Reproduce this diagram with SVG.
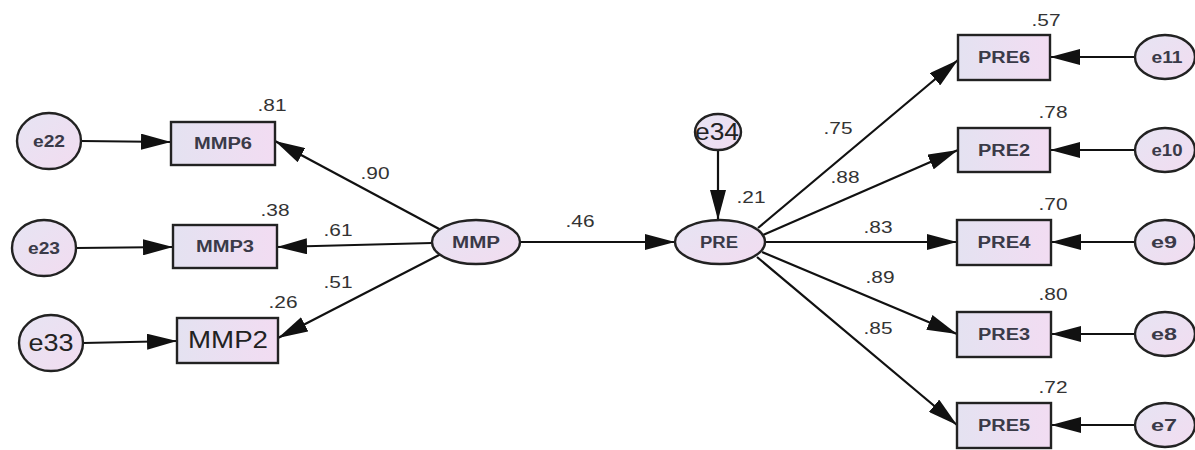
<svg xmlns="http://www.w3.org/2000/svg" width="1195" height="450" viewBox="0 0 1195 450">
  <defs>
    <linearGradient id="boxFill" x1="0" y1="0" x2="1" y2="0">
      <stop offset="0" stop-color="#e4e2f1"/>
      <stop offset="1" stop-color="#f2dcf2"/>
    </linearGradient>
    <linearGradient id="ovalFill" x1="0" y1="0" x2="1" y2="1">
      <stop offset="0" stop-color="#e6e4f3"/>
      <stop offset="1" stop-color="#f2dcf0"/>
    </linearGradient>
    <marker id="head" markerUnits="userSpaceOnUse" markerWidth="30" markerHeight="16" refX="30" refY="8" orient="auto">
      <path d="M0,0 L30,8 L0,16 z" fill="#111"/>
    </marker>
  </defs>
  <style>
    .box { fill: url(#boxFill); stroke: #222; stroke-width: 2.4; }
    .oval { fill: url(#ovalFill); stroke: #222; stroke-width: 2.4; }
    .nt { font-family: "Liberation Sans", Arial, sans-serif; font-size: 16px; font-weight: bold; fill: #3a3a48; text-anchor: middle; dominant-baseline: central; }
    .big { font-size: 23px; font-weight: normal; fill: #222; }
    .lbl { font-family: "Liberation Sans", Arial, sans-serif; font-size: 17px; fill: #333; text-anchor: middle; dominant-baseline: central; }
    .edge { stroke: #111; stroke-width: 2.2; fill: none; marker-end: url(#head); }
  </style>
  <rect width="1195" height="450" fill="#fff"/>

  <g id="connectors">
    <line class="edge" x1="81" y1="141" x2="171" y2="142"/>
    <line class="edge" x1="76" y1="248" x2="173" y2="247"/>
    <line class="edge" x1="83" y1="343" x2="177" y2="341"/>
    <line class="edge" x1="441" y1="230" x2="275" y2="141"/>
    <line class="edge" x1="432" y1="243" x2="277" y2="247"/>
    <line class="edge" x1="441" y1="254" x2="278" y2="338"/>
    <line class="edge" x1="520" y1="242" x2="675" y2="242"/>
    <line class="edge" x1="718" y1="150" x2="718" y2="220"/>
    <line class="edge" x1="758" y1="228" x2="958" y2="60"/>
    <line class="edge" x1="763" y1="235" x2="958" y2="150"/>
    <line class="edge" x1="765" y1="242" x2="957" y2="242"/>
    <line class="edge" x1="762" y1="252" x2="957" y2="334"/>
    <line class="edge" x1="757" y1="257" x2="957" y2="425"/>
    <line class="edge" x1="1135" y1="57" x2="1050" y2="57"/>
    <line class="edge" x1="1135" y1="150" x2="1050" y2="150"/>
    <line class="edge" x1="1135" y1="242" x2="1051" y2="242"/>
    <line class="edge" x1="1135" y1="334" x2="1051" y2="334"/>
    <line class="edge" x1="1135" y1="425" x2="1051" y2="425"/>
  </g>

  <g id="path-labels">
    <text class="lbl" x="375" y="173" textLength="29" lengthAdjust="spacingAndGlyphs">.90</text>
    <text class="lbl" x="338" y="230" textLength="29" lengthAdjust="spacingAndGlyphs">.61</text>
    <text class="lbl" x="338" y="282" textLength="29" lengthAdjust="spacingAndGlyphs">.51</text>
    <text class="lbl" x="580" y="221" textLength="29" lengthAdjust="spacingAndGlyphs">.46</text>
    <text class="lbl" x="751" y="197" textLength="29" lengthAdjust="spacingAndGlyphs">.21</text>
    <text class="lbl" x="838" y="128" textLength="29" lengthAdjust="spacingAndGlyphs">.75</text>
    <text class="lbl" x="845" y="177" textLength="29" lengthAdjust="spacingAndGlyphs">.88</text>
    <text class="lbl" x="878" y="227" textLength="29" lengthAdjust="spacingAndGlyphs">.83</text>
    <text class="lbl" x="880" y="277" textLength="29" lengthAdjust="spacingAndGlyphs">.89</text>
    <text class="lbl" x="878" y="328" textLength="29" lengthAdjust="spacingAndGlyphs">.85</text>
  </g>

  <g id="e22"><ellipse class="oval" cx="49" cy="141" rx="32" ry="28"/><text class="nt" x="49" y="141" textLength="32" lengthAdjust="spacingAndGlyphs">e22</text></g>
  <g id="e23"><ellipse class="oval" cx="44" cy="248" rx="32" ry="28"/><text class="nt" x="44" y="248" textLength="32" lengthAdjust="spacingAndGlyphs">e23</text></g>
  <g id="e33"><ellipse class="oval" cx="51" cy="343" rx="32" ry="28"/><text class="nt big" x="51" y="343" textLength="45" lengthAdjust="spacingAndGlyphs">e33</text></g>

  <g id="MMP6"><rect class="box" x="171" y="122" width="104" height="43"/><text class="nt" x="223" y="143" textLength="58" lengthAdjust="spacingAndGlyphs">MMP6</text><text class="lbl" x="272" y="105" textLength="29" lengthAdjust="spacingAndGlyphs">.81</text></g>
  <g id="MMP3"><rect class="box" x="173" y="225" width="104" height="43"/><text class="nt" x="225" y="246" textLength="58" lengthAdjust="spacingAndGlyphs">MMP3</text><text class="lbl" x="275" y="210" textLength="29" lengthAdjust="spacingAndGlyphs">.38</text></g>
  <g id="MMP2"><rect class="box" x="177" y="318" width="101" height="45"/><text class="nt big" x="228" y="340" textLength="80" lengthAdjust="spacingAndGlyphs">MMP2</text><text class="lbl" x="283" y="302" textLength="29" lengthAdjust="spacingAndGlyphs">.26</text></g>

  <g id="MMP"><ellipse class="oval" cx="476" cy="242" rx="44" ry="22"/><text class="nt" x="476" y="242" textLength="48" lengthAdjust="spacingAndGlyphs">MMP</text></g>
  <g id="PRE"><ellipse class="oval" cx="720" cy="242" rx="45" ry="22"/><text class="nt" x="719" y="242" textLength="38" lengthAdjust="spacingAndGlyphs">PRE</text></g>
  <g id="e34"><ellipse class="oval" cx="718" cy="132" rx="23" ry="18"/><text class="nt big" x="717" y="132" textLength="44" lengthAdjust="spacingAndGlyphs">e34</text></g>

  <g id="PRE6"><rect class="box" x="958" y="35" width="92" height="45"/><text class="nt" x="1004" y="57" textLength="52" lengthAdjust="spacingAndGlyphs">PRE6</text><text class="lbl" x="1046" y="20" textLength="29" lengthAdjust="spacingAndGlyphs">.57</text></g>
  <g id="PRE2"><rect class="box" x="958" y="128" width="92" height="44"/><text class="nt" x="1004" y="150" textLength="52" lengthAdjust="spacingAndGlyphs">PRE2</text><text class="lbl" x="1053" y="112" textLength="29" lengthAdjust="spacingAndGlyphs">.78</text></g>
  <g id="PRE4"><rect class="box" x="957" y="220" width="94" height="45"/><text class="nt" x="1004" y="242" textLength="53" lengthAdjust="spacingAndGlyphs">PRE4</text><text class="lbl" x="1053" y="204" textLength="29" lengthAdjust="spacingAndGlyphs">.70</text></g>
  <g id="PRE3"><rect class="box" x="957" y="312" width="94" height="45"/><text class="nt" x="1004" y="334" textLength="52" lengthAdjust="spacingAndGlyphs">PRE3</text><text class="lbl" x="1053" y="294" textLength="29" lengthAdjust="spacingAndGlyphs">.80</text></g>
  <g id="PRE5"><rect class="box" x="957" y="403" width="94" height="45"/><text class="nt" x="1004" y="425" textLength="52" lengthAdjust="spacingAndGlyphs">PRE5</text><text class="lbl" x="1053" y="387" textLength="29" lengthAdjust="spacingAndGlyphs">.72</text></g>

  <g id="e11"><ellipse class="oval" cx="1165" cy="57" rx="30" ry="22"/><text class="nt" x="1167" y="57" textLength="31" lengthAdjust="spacingAndGlyphs">e11</text></g>
  <g id="e10"><ellipse class="oval" cx="1165" cy="150" rx="30" ry="22"/><text class="nt" x="1167" y="150" textLength="31" lengthAdjust="spacingAndGlyphs">e10</text></g>
  <g id="e9"><ellipse class="oval" cx="1165" cy="242" rx="30" ry="22"/><text class="nt" x="1164" y="242" textLength="26" lengthAdjust="spacingAndGlyphs">e9</text></g>
  <g id="e8"><ellipse class="oval" cx="1165" cy="334" rx="30" ry="22"/><text class="nt" x="1164" y="334" textLength="26" lengthAdjust="spacingAndGlyphs">e8</text></g>
  <g id="e7"><ellipse class="oval" cx="1165" cy="425" rx="30" ry="22"/><text class="nt" x="1164" y="425" textLength="26" lengthAdjust="spacingAndGlyphs">e7</text></g>
</svg>
